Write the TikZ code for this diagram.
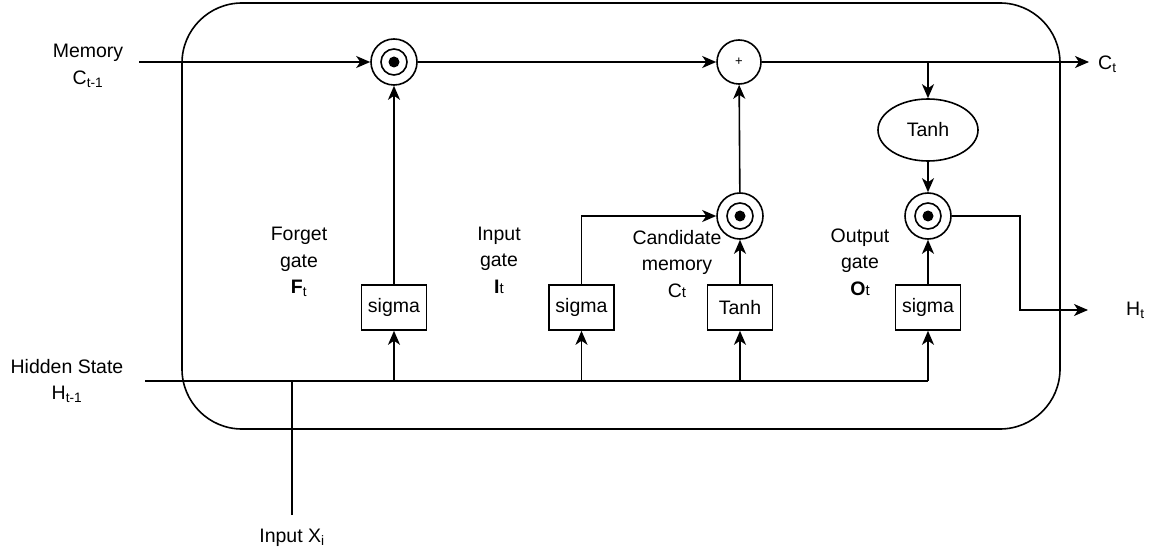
\documentclass[tikz,border=0pt]{standalone}
\usepackage{fontspec}
\setmainfont{Liberation Sans}
\usetikzlibrary{shapes.geometric,arrows.meta}
\begin{document}
\begin{tikzpicture}[x=1pt,y=-1pt,
  every node/.style={font=\fontsize{19.5}{26.5}\selectfont},
  wire/.style={line width=1.6pt},
  arr/.style={wire,-{Stealth[length=14pt,width=12pt,inset=4pt]}},
  prod/.style={circle,draw,line width=1.6pt,minimum size=46pt,inner sep=0pt,
    path picture={
      \draw[line width=1.6pt] (path picture bounding box.center) circle[radius=13pt];
      \fill (path picture bounding box.center) circle[radius=5.5pt];}},
  sumop/.style={circle,draw,line width=1.6pt,minimum size=44pt,inner sep=0pt,
    font=\fontsize{13}{13}\selectfont},
  gatebox/.style={rectangle,draw,line width=1.6pt,minimum width=65pt,minimum height=45pt,inner sep=0pt},
  actoval/.style={ellipse,draw,line width=1.6pt,minimum width=100pt,minimum height=62pt,inner sep=0pt},
  lbl/.style={align=center,inner sep=0pt}]
\useasboundingbox (0,0) rectangle (1152,556);

% cell boundary
\draw[wire,rounded corners=60pt] (182,3) rectangle (1060,429);

% operators
\node[prod] (f) at (394,62) {};
\node[sumop] (plus) at (739,62) {+};
\node[prod] (c) at (740,216) {};
\node[prod] (o) at (928,216) {};
\node[actoval] (th) at (928,130) {Tanh};

% gate activations
\node[gatebox] (sf) at (394,307.5) {sigma};
\node[gatebox] (si) at (581.5,307.5) {sigma};
\node[gatebox] (tc) at (740,307.5) {Tanh};
\node[gatebox] (so) at (928,307.5) {sigma};

% labels
\node[lbl] (lmem) at (88,66) {Memory\\C\textsubscript{t-1}};
\node[lbl] (lhid) at (67,381) {Hidden State\\H\textsubscript{t-1}};
\node[lbl] (lx) at (292,538) {Input X\textsubscript{i}};
\node[lbl] (lf) at (299,262) {Forget\\gate\\\textbf{F}\textsubscript{t}};
\node[lbl] (li) at (499,260) {Input\\gate\\\textbf{I}{\fontsize{15}{15}\selectfont t}};
\node[lbl] (lc) at (677,264) {Candidate\\memory\\C{\fontsize{15}{15}\selectfont t}};
\node[lbl] (lo) at (860,262) {Output\\gate\\\textbf{O}{\fontsize{15}{15}\selectfont t}};
\node[lbl,anchor=west] (lct) at (1098,64) {C\textsubscript{t}};
\node[lbl,anchor=west] (lht) at (1126,310) {H\textsubscript{t}};

% free ends
\coordinate (memin) at (139,62);
\coordinate (ctout) at (1089,62);
\coordinate (br) at (928,62);
\coordinate (hb) at (1020,310);
\coordinate (hout) at (1088,310);
\coordinate (hin) at (145,381);
\coordinate (hend) at (928,381);
\coordinate (xin) at (292,515);

% cell state path
\draw[arr] (memin) -- (f);
\draw[arr] (f) -- (plus);
\draw[arr] (plus) -- (ctout);
\draw[arr] (br) -- (th);
\draw[arr] (th) -- (o);
\draw[arr] (o) -| (hb) -- (hout);

% gate connections
\draw[arr] (sf) -- (f);
\draw[arr] (si.north) |- (c.west);
\draw[arr] (tc) -- (c);
\draw[arr] (c) -- (plus);
\draw[arr] (so) -- (o);

% hidden state and input bus
\draw[wire] (hin) -- (hend);
\draw[wire] (xin) -- (xin |- hin);
\draw[arr] (hin -| sf.south) -- (sf.south);
\draw[arr] (hin -| si.south) -- (si.south);
\draw[arr] (hin -| tc.south) -- (tc.south);
\draw[arr] (hend) -- (so.south);
\end{tikzpicture}
\end{document}
